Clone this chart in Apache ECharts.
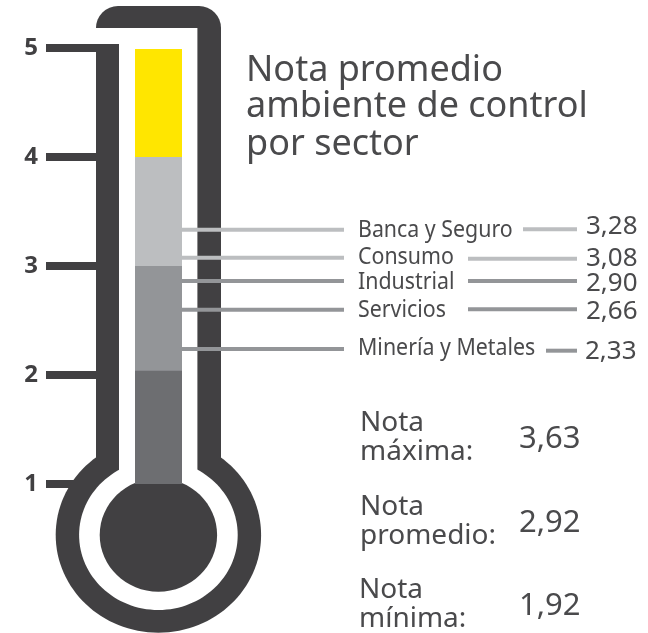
<!DOCTYPE html>
<html>
<head>
<meta charset="utf-8">
<style>
  html, body { margin: 0; padding: 0; background: #fff; }
  #chart { width: 648px; height: 633px; }
</style>
</head>
<body>
<div id="chart"></div>
<script src="https://cdn.jsdelivr.net/npm/echarts@6/dist/echarts.min.js"></script>
<script>
// Thermometer column: cumulative tops of the four bands, read on the 1-5 scale
const bandTops = [2.04, 3, 4, 4.99];
const bandColors = ['#6d6e71', '#939598', '#bcbec0', '#ffe600'];

// Sectors. The printed notes are the source text; the leader lines in the
// original sit where they were drawn, not exactly at the printed note, so the
// levels are read separately off the picture.
const sectors = ['Banca y Seguro', 'Consumo', 'Industrial', 'Servicios', 'Minería y Metales'];
const sectorNotes = ['3,28', '3,08', '2,90', '2,66', '2,33'];
const leaderLevelsLeft = [3.333, 3.076, 2.862, 2.599, 2.238];
const leaderLevelsRight = [3.337, 3.067, 2.862, 2.603, 2.223];
const leaderColors = ['#bcbec0', '#bcbec0', '#939598', '#939598', '#939598'];

const summaryLabels = ['máxima:', 'promedio:', 'mínima:'];
const summaryNotes = ['3,63', '2,92', '1,92'];
const titleLines = ['Nota promedio', 'ambiente de control', 'por sector'];

const DARK = '#414042';
const TEXT = '#4a4a4c';
const FONT = '"Noto Sans", sans-serif';

// Layout in pixels (not data)
const rightLineStart = [523, 468, 468, 468, 546];
const labelY = [230, 257, 282, 310, 348];
const noteY = [227, 259, 284, 312, 352];
const summaryY = [423, 507, 590];

const txt = (text, x, y, size, extra) => Object.assign({
  type: 'text',
  z: 10,
  x: x,
  y: y,
  style: {
    text: text,
    fill: TEXT,
    font: size + 'px ' + FONT,
    verticalAlign: 'middle'
  }
}, extra || {});

const shell = [
  { type: 'ellipse', shape: { cx: 158.4, cy: 535, rx: 102.7, ry: 97.7 }, style: { fill: DARK } },
  { type: 'rect', shape: { x: 96, y: 6, width: 125, height: 500, r: [22, 22, 0, 0] }, style: { fill: DARK } },
  { type: 'ellipse', shape: { cx: 158.4, cy: 535, rx: 79.3, ry: 75 }, style: { fill: '#fff' } },
  { type: 'rect', shape: { x: 119, y: 44, width: 78.4, height: 450 }, style: { fill: '#fff' } },
  { type: 'rect', shape: { x: 96, y: 28, width: 101.4, height: 16 }, style: { fill: '#fff' } },
  { type: 'ellipse', shape: { cx: 158.4, cy: 535, rx: 58.7, ry: 56.7 }, style: { fill: DARK } }
];

const texts = [];
titleLines.forEach((t, i) => texts.push(txt(t, 246, [71, 107, 145][i], 36)));
// the sector names are set condensed in the original
sectors.forEach((s, i) => texts.push(txt(s, 358, labelY[i], 24, { scaleX: 0.89 })));
sectorNotes.forEach((n, i) => texts.push(txt(n, i === 4 ? 585 : 586, noteY[i], 26)));
summaryLabels.forEach((s, i) => {
  const x = i === 2 ? 359 : 360;
  texts.push(txt('Nota', x, summaryY[i], 28));
  texts.push(txt(s, x, summaryY[i] + 29, 28));
  texts.push(txt(summaryNotes[i], 519, summaryY[i] + 16, 31));
});

const chart = echarts.init(document.getElementById('chart'), null, { renderer: 'canvas' });

chart.setOption({
  animation: false,
  backgroundColor: '#fff',
  grid: { left: 96, top: 48, width: 125, height: 436 },
  xAxis: { type: 'category', data: ['nota'], show: false },
  yAxis: {
    type: 'value',
    min: 1,
    max: 5,
    interval: 1,
    splitLine: { show: false },
    axisLine: { show: false },
    axisTick: { show: true, length: 50, lineStyle: { color: DARK, width: 8 } },
    axisLabel: { margin: 58, color: DARK, fontSize: 24, fontWeight: 'bold', fontFamily: FONT }
  },
  graphic: { z: 0, elements: shell.concat(texts) },
  series: [
    // overlapped bars, tallest drawn first, so each band shows from the band below
    ...bandTops.map((top, i) => ({ i: i, top: top })).reverse().map(b => ({
      type: 'bar',
      barWidth: 47,
      barGap: '-100%',
      z: 3 + (3 - b.i),
      data: [b.top],
      itemStyle: { color: bandColors[b.i] }
    })),
    {
      type: 'custom',
      z: 8,
      clip: false,
      silent: true,
      data: leaderLevelsLeft.map((v, i) => ({ value: [0, v], idx: i })),
      renderItem: (params, api) => {
        const i = params.dataIndex;
        const y1 = api.coord([0, leaderLevelsLeft[i]])[1];
        const y2 = api.coord([0, leaderLevelsRight[i]])[1];
        const st = { stroke: leaderColors[i], lineWidth: 4 };
        return {
          type: 'group',
          children: [
            { type: 'line', shape: { x1: 181, y1: y1, x2: 344, y2: y1 }, style: st },
            { type: 'line', shape: { x1: rightLineStart[i], y1: y2, x2: 577, y2: y2 }, style: st }
          ]
        };
      }
    }
  ]
});
</script>
</body>
</html>
